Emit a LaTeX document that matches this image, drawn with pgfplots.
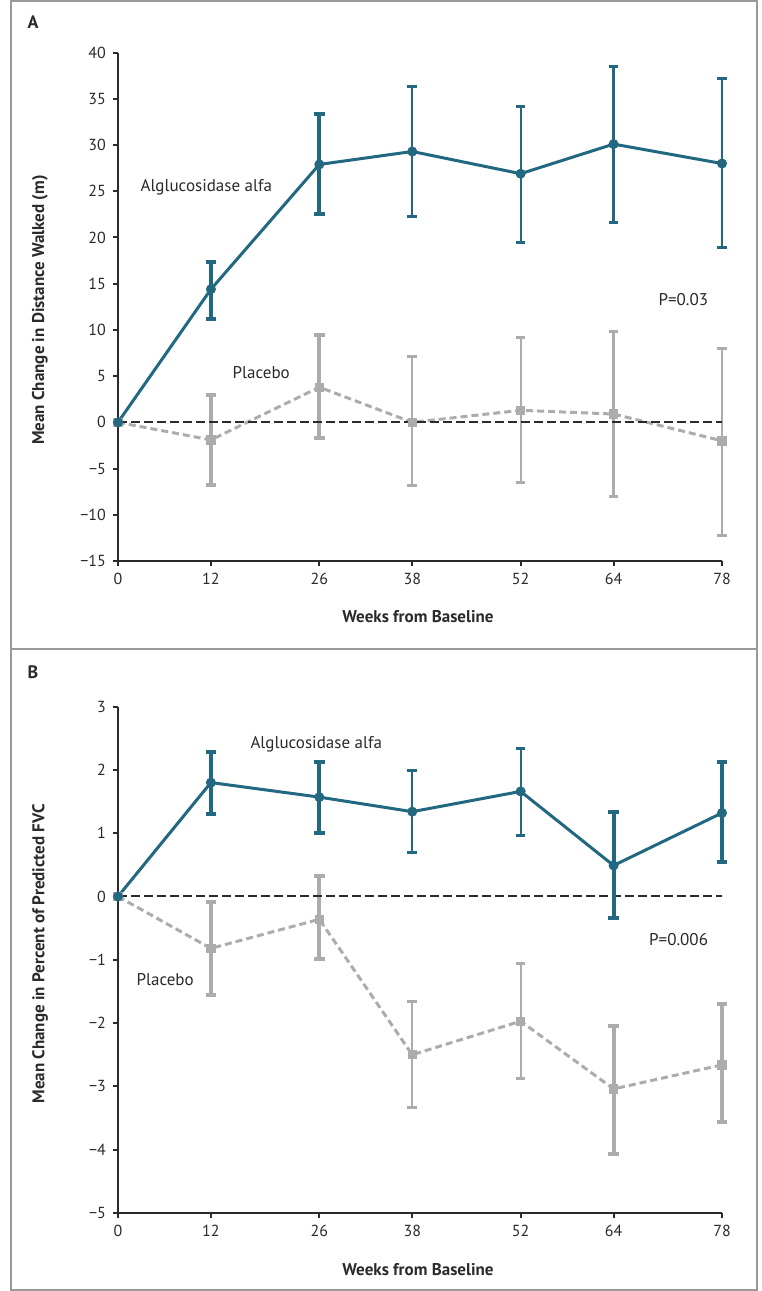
\documentclass[border=0pt]{standalone}
\usepackage{fontspec}
\setmainfont{PT Sans}
\usepackage{pgfplots}
\usepackage{pgfplotstable}
\pgfplotsset{compat=1.18}
\definecolor{teal1}{HTML}{216880}
\definecolor{gray1}{HTML}{ACACAF}
\definecolor{txt}{HTML}{2A2A2A}
\definecolor{frame}{HTML}{9A9A9A}

% Panel A data: week, mean, error plus, error minus
\pgfplotstableread{
w m ep em
0 0 0 0
12 14.4 3.0 3.2
26 27.9 5.5 5.4
38 29.3 7.0 7.0
52 26.9 7.3 7.4
64 30.1 8.4 8.5
78 28.0 9.2 9.1
}\Aalg
\pgfplotstableread{
w m ep em
12 14.4 3.0 3.2
26 27.9 5.5 5.4
}\AalgThick
\pgfplotstableread{
w m ep em
38 29.3 7.0 7.0
52 26.9 7.3 7.4
64 30.1 8.4 8.5
78 28.0 9.2 9.1
}\AalgThin
\pgfplotstableread{
w m ep em
0 0 0 0
12 -1.9 4.9 4.9
26 3.8 5.6 5.5
38 0.0 7.1 6.8
52 1.3 7.9 7.8
64 0.9 8.9 8.9
78 -2.0 10.0 10.2
}\Apla
\pgfplotstableread{
w m ep em
12 -1.9 4.9 4.9
26 3.8 5.6 5.5
}\AplaThick
\pgfplotstableread{
w m ep em
38 0.0 7.1 6.8
52 1.3 7.9 7.8
64 0.9 8.9 8.9
78 -2.0 10.0 10.2
}\AplaThin

% Panel B data
\pgfplotstableread{
w m ep em
0 0 0 0
12 1.80 0.49 0.50
26 1.57 0.56 0.57
38 1.34 0.65 0.65
52 1.66 0.68 0.69
64 0.49 0.84 0.83
78 1.32 0.80 0.78
}\Balg
\pgfplotstableread{
w m ep em
12 1.80 0.49 0.50
26 1.57 0.56 0.57
64 0.49 0.84 0.83
78 1.32 0.80 0.78
}\BalgThick
\pgfplotstableread{
w m ep em
38 1.34 0.65 0.65
52 1.66 0.68 0.69
}\BalgThin
\pgfplotstableread{
w m ep em
0 0 0 0
12 -0.82 0.73 0.74
26 -0.36 0.68 0.63
38 -2.50 0.84 0.84
52 -1.97 0.91 0.90
64 -3.04 1.00 1.02
78 -2.66 0.96 0.90
}\Bpla
\pgfplotstableread{
w m ep em
12 -0.82 0.73 0.74
26 -0.36 0.68 0.63
64 -3.04 1.00 1.02
78 -2.66 0.96 0.90
}\BplaThick
\pgfplotstableread{
w m ep em
38 -2.50 0.84 0.84
52 -1.97 0.91 0.90
}\BplaThin

\pgfplotsset{
  panel/.style={
    scale only axis, width=302pt,
    xmin=0, xmax=78,
    axis x line*=bottom, axis y line*=left,
    axis line style={line width=1pt, color=txt, -},
    xtick={0,12,26,38,52,64,78},
    tick align=outside, major tick length=2.5pt,
    tick style={line width=1pt, color=txt},
    ticklabel style={font=\fontsize{8}{9}\selectfont, color=txt},
    /pgf/number format/assume math mode=true,
    clip=false,
  },
  ebthick/.style={only marks, mark=none, forget plot,
    error bars/.cd, y dir=both, y explicit, error mark=|,
    error bar style={line width=2pt},
    error mark options={line width=2pt, mark size=2.6pt}},
  ebthin/.style={only marks, mark=none, forget plot,
    error bars/.cd, y dir=both, y explicit, error mark=|,
    error bar style={line width=1.1pt},
    error mark options={line width=1.5pt, mark size=2.4pt}},
  algline/.style={teal1, line width=1.5pt, mark=*, mark size=1.7pt},
  plaline/.style={gray1, line width=1.5pt, dash pattern=on 3.5pt off 2pt,
    mark=square*, mark size=1.6pt, mark options={solid}},
  zeroline/.style={txt, line width=1pt, dash pattern=on 4.5pt off 2pt},
}

\begin{document}
\begin{tikzpicture}
\useasboundingbox (0,0) rectangle (380.5pt,645.5pt);
% frames
\draw[frame, line width=0.8pt] (5.5pt,0.5pt) rectangle (378.5pt,321pt);
\draw[frame, line width=0.8pt] (5.5pt,321pt) rectangle (378.5pt,645pt);

% ---------------- Panel A ----------------
\begin{axis}[panel,
  at={(59pt,365pt)}, anchor=south west, height=254.2pt,
  ymin=-15, ymax=40,
  ytick={-15,-10,-5,0,5,10,15,20,25,30,35,40},
  yticklabels={−15,−10,−5,0,5,10,15,20,25,30,35,40},
]
\addplot[plaline] table[x=w,y=m]{\Apla};
\addplot[gray1, ebthick] table[x=w,y=m,y error plus=ep,y error minus=em]{\AplaThick};
\addplot[gray1, ebthin] table[x=w,y=m,y error plus=ep,y error minus=em]{\AplaThin};
\addplot[zeroline] coordinates {(0,0) (78,0)};
\addplot[algline] table[x=w,y=m]{\Aalg};
\addplot[teal1, ebthick] table[x=w,y=m,y error plus=ep,y error minus=em]{\AalgThick};
\addplot[teal1, ebthin] table[x=w,y=m,y error plus=ep,y error minus=em]{\AalgThin};
\node[font=\fontsize{8.5}{10}\selectfont, color=txt] at (axis cs:11.4,25.4) {Alglucosidase alfa};
\node[font=\fontsize{8.5}{10}\selectfont, color=txt] at (axis cs:18.5,5.35) {Placebo};
\node[font=\fontsize{8.5}{10}\selectfont, color=txt] at (axis cs:73,13.3) {P=0.03};
\end{axis}

% ---------------- Panel B ----------------
\begin{axis}[panel,
  at={(59pt,39pt)}, anchor=south west, height=253.2pt,
  ymin=-5, ymax=3,
  ytick={-5,-4,-3,-2,-1,0,1,2,3},
  yticklabels={−5,−4,−3,−2,−1,0,1,2,3},
]
\addplot[plaline] table[x=w,y=m]{\Bpla};
\addplot[gray1, ebthick] table[x=w,y=m,y error plus=ep,y error minus=em]{\BplaThick};
\addplot[gray1, ebthin] table[x=w,y=m,y error plus=ep,y error minus=em]{\BplaThin};
\addplot[zeroline] coordinates {(0,0) (78,0)};
\addplot[algline] table[x=w,y=m]{\Balg};
\addplot[teal1, ebthick] table[x=w,y=m,y error plus=ep,y error minus=em]{\BalgThick};
\addplot[teal1, ebthin] table[x=w,y=m,y error plus=ep,y error minus=em]{\BalgThin};
\node[font=\fontsize{8.5}{10}\selectfont, color=txt] at (axis cs:25.6,2.4) {Alglucosidase alfa};
\node[font=\fontsize{8.5}{10}\selectfont, color=txt] at (axis cs:6.1,-1.31) {Placebo};
\node[font=\fontsize{8.5}{10}\selectfont, color=txt] at (axis cs:72.4,-0.68) {P=0.006};
\end{axis}

% panel letters and axis titles
\node[font=\bfseries\fontsize{9}{10}\selectfont, color=txt] at (16.5pt,634.5pt) {A};
\node[font=\bfseries\fontsize{9}{10}\selectfont, color=txt] at (16.5pt,309.5pt) {B};
\node[font=\bfseries\fontsize{8.5}{10}\selectfont, color=txt, rotate=90] at (20pt,490.5pt) {Mean Change in Distance Walked (m)};
\node[font=\bfseries\fontsize{8.5}{10}\selectfont, color=txt, rotate=90] at (20pt,168.5pt) {Mean Change in Percent of Predicted FVC};
\node[font=\bfseries\fontsize{8.5}{10}\selectfont, color=txt] at (209pt,337pt) {Weeks from Baseline};
\node[font=\bfseries\fontsize{8.5}{10}\selectfont, color=txt] at (209pt,10.5pt) {Weeks from Baseline};
\end{tikzpicture}
\end{document}
